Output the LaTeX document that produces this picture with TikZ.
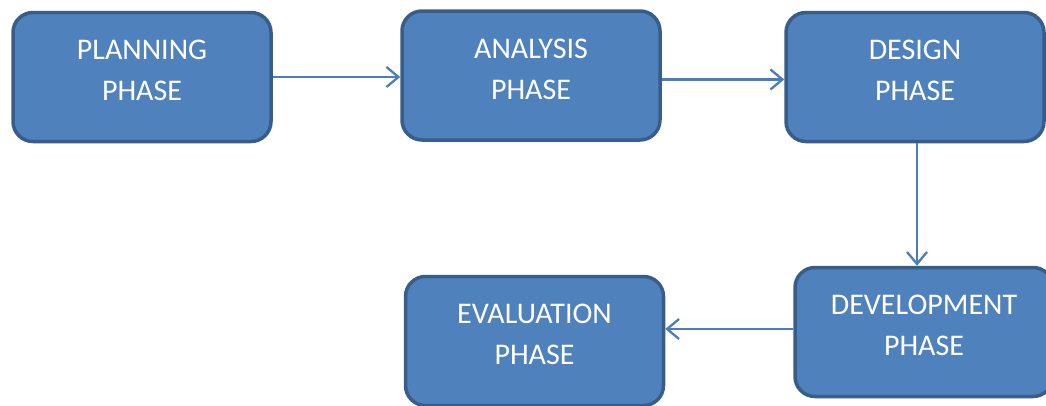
\documentclass[tikz,border=0pt]{standalone}
\usepackage{fontspec}
\setmainfont{Carlito}
\usetikzlibrary{arrows.meta}
\definecolor{phasefill}{HTML}{4F81BD}
\definecolor{phaseline}{HTML}{385D8A}
\definecolor{flowline}{HTML}{4A7EBB}

\begin{document}
\begin{tikzpicture}[x=1pt, y=-1pt,
    phasebox/.style={draw=phaseline, fill=phasefill, line width=3.5pt, rounded corners=20pt,
        minimum width=258pt, minimum height=129pt, align=center, text=white,
        font=\fontsize{30}{41}\selectfont, text depth=13pt},
    flowarrow/.style={draw=flowline, line width=2.3pt, -{Straight Barb[length=12pt, width=20pt]}}]
    \useasboundingbox (0, 0) rectangle (1046, 405);
    % top row
    \node[phasebox] (planning) at (142, 77) {PLANNING\\PHASE};
    \node[phasebox] (analysis) at (531, 75.5) {ANALYSIS\\PHASE};
    \node[phasebox] (design) at (915, 77) {DESIGN\\PHASE};
    % bottom row
    \node[phasebox] (development) at (924, 332) {DEVELOPMENT\\PHASE};
    \node[phasebox] (evaluation) at (534.5, 341) {EVALUATION\\PHASE};
    % flow
    \draw[flowarrow] (planning.east) -- (planning.east -| analysis.west);
    \draw[flowarrow] ([yshift=-4pt]analysis.east) -- ([yshift=-4pt]analysis.east -| design.west);
    \draw[flowarrow] ([xshift=2pt]design.south) -- ([xshift=2pt]design.south |- development.north);
    \draw[flowarrow] ([yshift=3pt]development.west) -- ([yshift=3pt]development.west -| evaluation.east);
\end{tikzpicture}
\end{document}
